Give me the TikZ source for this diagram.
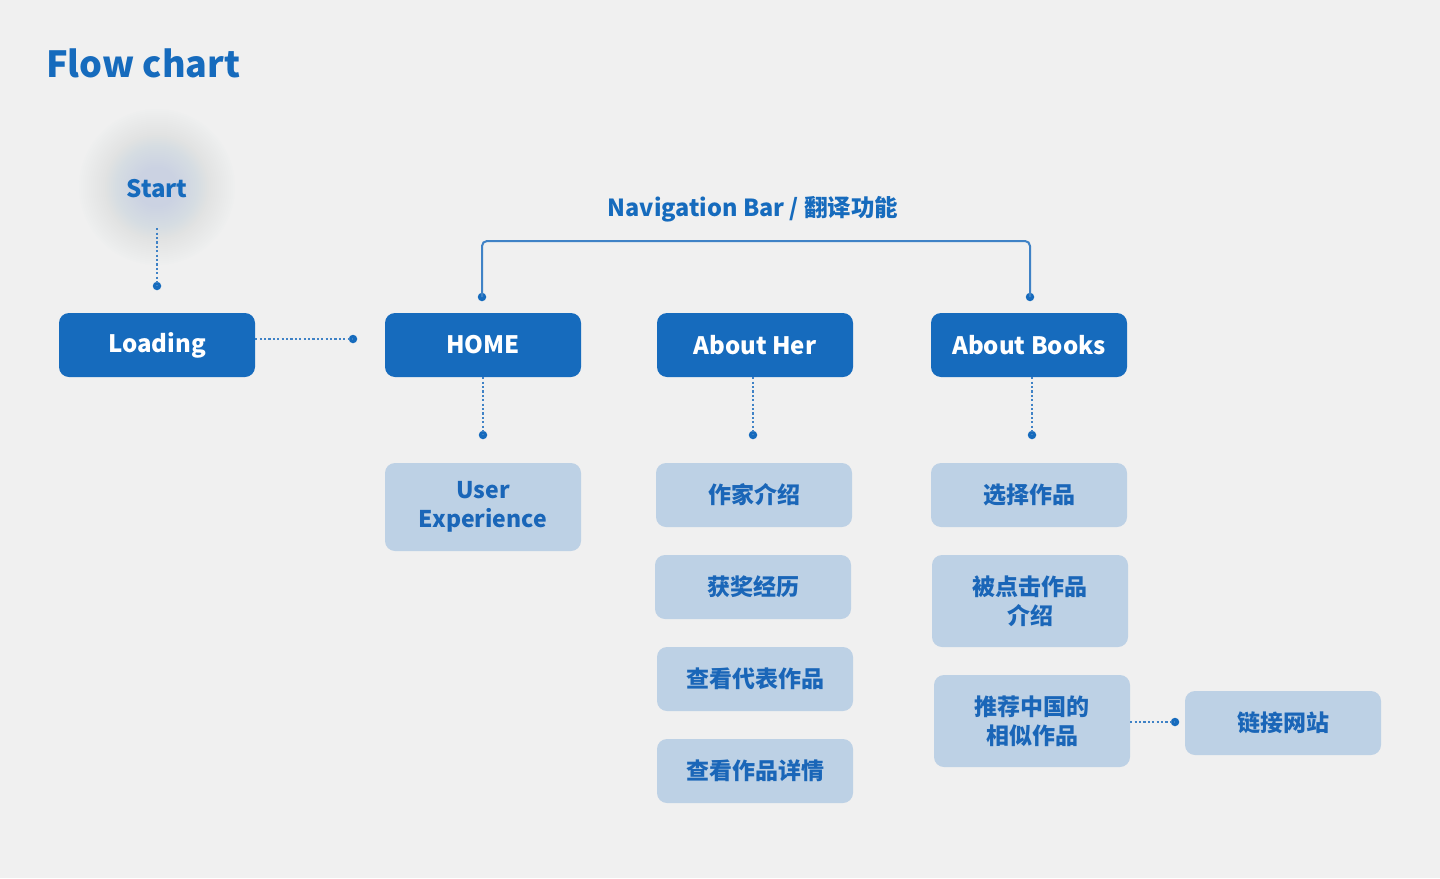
\documentclass[tikz,border=0pt]{standalone}
\usepackage{fontspec}
\setmainfont{Noto Sans CJK SC}
\definecolor{bg}{HTML}{F0F0F0}
\definecolor{dark}{HTML}{166BBD}
\definecolor{lite}{HTML}{BDD1E5}
\definecolor{ltext}{HTML}{1A66B8}
\definecolor{conn}{HTML}{3F82C6}
\definecolor{glowc}{HTML}{C4D2E2}
\tikzset{
  darkbox/.style={fill=dark, rounded corners=10pt, minimum width=196pt, minimum height=64pt, inner sep=0pt, text=white, font=\bfseries\fontsize{24}{29}\selectfont, align=center},
  litebox/.style={fill=lite, rounded corners=10pt, minimum width=196pt, minimum height=64pt, inner sep=0pt, text=ltext, font=\bfseries\fontsize{23}{29}\selectfont, align=center},
  dotline/.style={conn, line width=1.8pt, dash pattern=on 2.2pt off 2.2pt},
  solidline/.style={conn, line width=2pt, rounded corners=5pt},
  enddot/.style={circle, fill=dark, inner sep=0pt, minimum size=8.5pt},
}
\begin{document}
\begin{tikzpicture}[x=1pt,y=-1pt]
\fill[bg] (0,0) rectangle (1440,878);
\useasboundingbox (0,0) rectangle (1440,878);
% title
\node[anchor=base west, inner sep=0pt, text=dark, font=\bfseries\fontsize{36}{42}\selectfont] (title) at (46,77) {Flow chart};
% start glow
\foreach \r in {78,76,...,54} {\fill[glowc, opacity=0.025] (157,187) circle (\r);}
\foreach \r in {52,50,...,20} {\fill[glowc, opacity=0.05] (157,187) circle (\r);}
\node[text=dark, font=\bfseries\fontsize{24}{29}\selectfont, minimum height=78pt, inner sep=0pt] (start) at (157,189) {Start};
\node[enddot] (d0) at (157,286) {};
\draw[dotline] (start.south) -- (d0.center);
% main boxes
\node[darkbox] (loading) at (157,345) {Loading};
\node[darkbox] (home) at (483,345) {HOME};
\node[darkbox] (her) at (755,345) {About Her};
\node[darkbox] (books) at (1029,345) {About Books};
% loading -> home
\node[enddot] (d1) at (353,339) {};
\draw[dotline] (loading.east |- d1) -- (d1.center);
% navigation bar
\node[text=dark, font=\bfseries\fontsize{23.5}{29}\selectfont, inner sep=0pt] (nav) at (753,209) {Navigation Bar / 翻译功能};
\node[enddot] (n1) at (482,297) {};
\node[enddot] (n2) at (1030,297) {};
\coordinate (navy) at (753,241);
\draw[solidline] (n1.center) -- (n1 |- navy) -- (n2 |- navy) -- (n2.center);
% down dots
\node[enddot] (h1) at (483,435) {};
\node[enddot] (a1) at (753,435) {};
\node[enddot] (b1) at (1032,435) {};
\draw[dotline] (home.south -| h1) -- (h1.center);
\draw[dotline] (her.south -| a1) -- (a1.center);
\draw[dotline] (books.south -| b1) -- (b1.center);
% light boxes
\node[litebox, minimum height=88pt] (ux) at (483,507) {User\\Experience};
\node[litebox] (her1) at (754,495) {作家介绍};
\node[litebox] (her2) at (753,587) {获奖经历};
\node[litebox] (her3) at (755,679) {查看代表作品};
\node[litebox] (her4) at (755,771) {查看作品详情};
\node[litebox] (bk1) at (1029,495) {选择作品};
\node[litebox, minimum height=92pt] (bk2) at (1030,601) {被点击作品\\介绍};
\node[litebox, minimum height=92pt] (bk3) at (1032,721) {推荐中国的\\相似作品};
\node[litebox] (link) at (1283,723) {链接网站};
\node[enddot] (l1) at (1175,722) {};
\draw[dotline] (bk3.east |- l1) -- (l1.center);
\end{tikzpicture}
\end{document}
